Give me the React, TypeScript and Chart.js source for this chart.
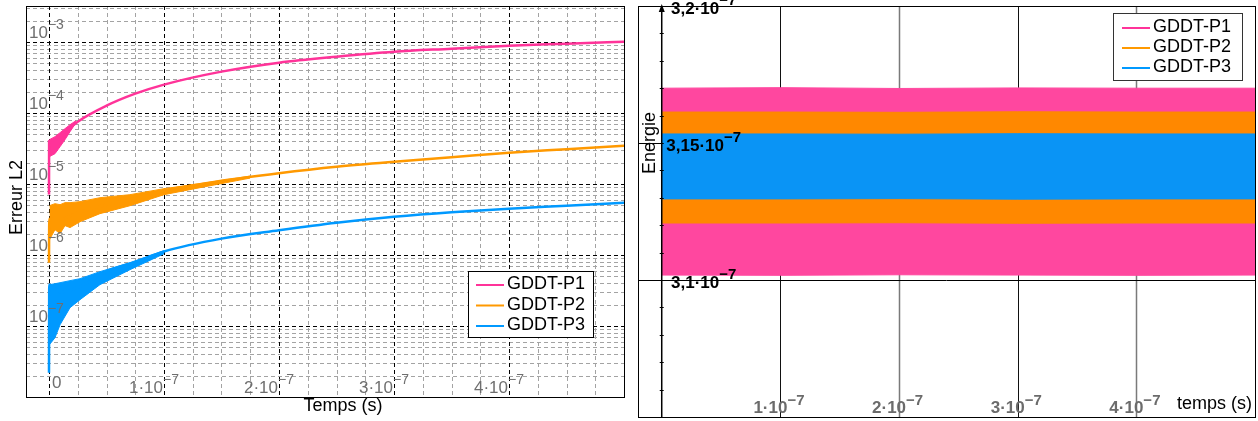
import React, { useEffect, useRef } from "react";
import { Chart, registerables } from "chart.js";

Chart.register(...registerables);

const FONT = '"Liberation Sans", Arial, Helvetica, sans-serif';
const PINK = "#ff3399";
const ORANGE = "#ff9900";
const BLUE = "#0099ff";
const SERIES = ["GDDT-P1", "GDDT-P2", "GDDT-P3"];
const SERIES_COLORS = [PINK, ORANGE, BLUE];

// ---------------- Left panel: L2 error (log) vs time ----------------
const ERR_X_RANGE = [-0.2e-7, 5e-7];
const ERR_Y_RANGE = [1e-8, 3.21e-3];
const ERR_X_TICKS = [0, 1e-7, 2e-7, 3e-7, 4e-7];
const ERR_X_TICK_BASE = ["0", "1·10", "2·10", "3·10", "4·10"];
const ERR_X_TICK_EXP = ["", "−7", "−7", "−7", "−7"];
const ERR_X_MINOR_STEP = 0.25e-7;
const ERR_Y_DECADES = [-3, -4, -5, -6, -7];
const ERR_Y_TICK_BASE = "10";
const ERR_Y_TICK_EXP = ["−3", "−4", "−5", "−6", "−7"];

const P1_T = [0, 0.001e-7, 0.1e-7, 0.183e-7, 0.25e-7, 0.5e-7, 0.75e-7, 1.0e-7, 1.5e-7, 2.0e-7, 2.5e-7, 3.0e-7, 3.5e-7, 4.0e-7, 4.5e-7, 5.0e-7];
const P1_ERR = [7.1e-6, 4.0e-5, 4.2e-5, 6.1e-5, 7.54e-5, 1.267e-4, 1.87e-4, 2.51e-4, 3.82e-4, 5.11e-4, 6.21e-4, 7.3e-4, 8.05e-4, 8.87e-4, 9.46e-4, 1.01e-3];
const P1_BAND_T = [0.004e-7, 0.052e-7, 0.096e-7, 0.139e-7, 0.183e-7, 0.235e-7];
const P1_BAND_HI = [4.21e-5, 4.64e-5, 5.28e-5, 6.01e-5, 6.84e-5, 7.79e-5];
const P1_BAND_LO = [2.43e-5, 2.67e-5, 3.35e-5, 4.21e-5, 5.45e-5, 7.3e-5];

const P2_T = [0, 0.002e-7, 0.1e-7, 0.25e-7, 0.5e-7, 0.75e-7, 1.0e-7, 1.5e-7, 2.0e-7, 2.5e-7, 3.0e-7, 3.5e-7, 4.0e-7, 4.5e-7, 5.0e-7];
const P2_ERR = [7.8e-7, 3.2e-6, 3.19e-6, 3.94e-6, 5.11e-6, 6.21e-6, 8.05e-6, 1.11e-5, 1.42e-5, 1.75e-5, 2.06e-5, 2.38e-5, 2.76e-5, 3.09e-5, 3.46e-5];
const P2_BAND_T = [0.004e-7, 0.052e-7, 0.096e-7, 0.139e-7, 0.183e-7, 0.27e-7, 0.443e-7, 0.704e-7, 1.0e-7, 1.313e-7, 1.748e-7];
const P2_BAND_HI = [4.95e-6, 5.28e-6, 5.11e-6, 5.46e-6, 5.46e-6, 5.64e-6, 6.41e-6, 7.07e-6, 8.59e-6, 1.01e-5, 1.29e-5];
const P2_BAND_LO = [1.64e-6, 2.27e-6, 2.0e-6, 2.59e-6, 2.43e-6, 2.94e-6, 3.82e-6, 4.94e-6, 7.07e-6, 8.87e-6, 1.21e-5];

const P3_T = [0, 0.002e-7, 0.1e-7, 0.27e-7, 0.5e-7, 0.75e-7, 1.0e-7, 1.5e-7, 2.0e-7, 2.5e-7, 3.0e-7, 3.5e-7, 4.0e-7, 4.5e-7, 5.0e-7];
const P3_ERR = [2.2e-8, 3.8e-7, 3.0e-7, 3.6e-7, 5.9e-7, 8.0e-7, 1.12e-6, 1.7e-6, 2.23e-6, 2.85e-6, 3.46e-6, 4.01e-6, 4.49e-6, 4.94e-6, 5.45e-6];
const P3_BAND_T = [0.004e-7, 0.052e-7, 0.096e-7, 0.183e-7, 0.27e-7, 0.443e-7, 0.704e-7, 1.0e-7];
const P3_BAND_HI = [3.82e-7, 3.94e-7, 4.07e-7, 4.35e-7, 4.64e-7, 5.82e-7, 7.8e-7, 1.15e-6];
const P3_BAND_LO = [5.46e-8, 6.84e-8, 1.04e-7, 1.81e-7, 2.35e-7, 3.82e-7, 6.21e-7, 1.04e-6];

// ---------------- Right panel: energy vs time ----------------
const EN_X_RANGE = [-0.2e-7, 5e-7];
const EN_Y_RANGE = [3.05e-7, 3.2e-7];
const EN_X_TICKS = [1e-7, 2e-7, 3e-7, 4e-7];
const EN_X_TICK_BASE = ["1·10", "2·10", "3·10", "4·10"];
const EN_X_TICK_EXP = ["−7", "−7", "−7", "−7"];
const EN_Y_TICKS = [3.2e-7, 3.15e-7, 3.1e-7];
const EN_Y_TICK_BASE = ["3,2·10", "3,15·10", "3,1·10"];
const EN_Y_TICK_EXP = ["−7", "−7", "−7"];
const EN_Y_MINOR_STEP = 0.01e-7;

const EN_T = [0, 1e-7, 2e-7, 3e-7, 4e-7, 5e-7];
const P1_EN_MAX = [3.17e-7, 3.1702e-7, 3.1699e-7, 3.1701e-7, 3.17e-7, 3.17e-7];
const P1_EN_MIN = [3.1018e-7, 3.1017e-7, 3.1019e-7, 3.1018e-7, 3.1017e-7, 3.1018e-7];
const P2_EN_MAX = [3.1613e-7, 3.1613e-7, 3.1612e-7, 3.1614e-7, 3.1613e-7, 3.1613e-7];
const P2_EN_MIN = [3.1208e-7, 3.1208e-7, 3.1209e-7, 3.1207e-7, 3.1208e-7, 3.1208e-7];
const P3_EN_MAX = [3.1533e-7, 3.1533e-7, 3.1532e-7, 3.1534e-7, 3.1533e-7, 3.1533e-7];
const P3_EN_MIN = [3.1296e-7, 3.1296e-7, 3.1297e-7, 3.1295e-7, 3.1296e-7, 3.1296e-7];

const pts = (ts: number[], vs: number[]) => ts.map((t, i) => ({ x: t, y: vs[i] }));

function text(ctx: CanvasRenderingContext2D, s: string, x: number, y: number, size: number, color: string, bold = false, align: CanvasTextAlign = "left") {
  ctx.font = `${bold ? "bold " : ""}${size}px ${FONT}`;
  ctx.fillStyle = color;
  ctx.textAlign = align;
  ctx.textBaseline = "alphabetic";
  ctx.fillText(s, x, y);
}
function measure(ctx: CanvasRenderingContext2D, s: string, size: number, bold = false) {
  ctx.font = `${bold ? "bold " : ""}${size}px ${FONT}`;
  return ctx.measureText(s).width;
}
const crisp = (v: number) => Math.round(v) + 0.5;

function drawLegend(ctx: CanvasRenderingContext2D, x0: number, y0: number, w: number, h: number, border: string, rowY: number[], lineX: number[], textX: number) {
  ctx.save();
  ctx.setLineDash([]);
  ctx.fillStyle = "#ffffff";
  ctx.fillRect(x0, y0, w, h);
  ctx.strokeStyle = border;
  ctx.lineWidth = 1;
  ctx.strokeRect(crisp(x0), crisp(y0), Math.round(w), Math.round(h));
  SERIES.forEach((name, i) => {
    ctx.strokeStyle = SERIES_COLORS[i];
    ctx.lineWidth = 2;
    ctx.beginPath();
    ctx.moveTo(lineX[0], rowY[i] - 4);
    ctx.lineTo(lineX[1], rowY[i] - 4);
    ctx.stroke();
    text(ctx, name, textX, rowY[i], 18, "#000");
  });
  ctx.restore();
}

const leftDecor = {
  id: "leftDecor",
  beforeDatasetsDraw(chart: any) {
    const { ctx, chartArea: a, scales } = chart;
    const xs = scales.x, ys = scales.y;
    ctx.save();
    ctx.beginPath();
    ctx.rect(a.left, a.top, a.right - a.left, a.bottom - a.top);
    ctx.clip();
    ctx.lineWidth = 1;
    ctx.setLineDash([4, 3]);
    const drawPass = (major: boolean) => {
      ctx.strokeStyle = major ? "#000000" : "#a3a3a3";
      ctx.beginPath();
      for (let i = 0; i <= 20; i++) {
        if ((i % 4 === 0) !== major) continue;
        const px = crisp(xs.getPixelForValue(i * ERR_X_MINOR_STEP));
        ctx.moveTo(px, a.top);
        ctx.lineTo(px, a.bottom);
      }
      for (let e = -8; e <= -3; e++) {
        for (let k = 1; k <= 9; k++) {
          const v = k * Math.pow(10, e);
          if (v > ERR_Y_RANGE[1]) break;
          if ((k === 1) !== major) continue;
          const py = crisp(ys.getPixelForValue(v));
          ctx.moveTo(a.left, py);
          ctx.lineTo(a.right, py);
        }
      }
      ctx.stroke();
    };
    drawPass(false);
    drawPass(true);
    ctx.restore();
  },
  afterDatasetsDraw(chart: any) {
    const { ctx, chartArea: a, scales } = chart;
    const xs = scales.x, ys = scales.y;
    ctx.save();
    ctx.setLineDash([]);
    ctx.strokeStyle = "#000";
    ctx.lineWidth = 1;
    ctx.strokeRect(crisp(a.left), crisp(a.top), Math.round(a.right - a.left), Math.round(a.bottom - a.top));
    const grey = "#6f6f6f";
    ERR_Y_DECADES.forEach((e, i) => {
      const py = ys.getPixelForValue(Math.pow(10, e));
      const x = a.left + 3;
      text(ctx, ERR_Y_TICK_BASE, x, py - 4, 17, grey);
      const w = measure(ctx, ERR_Y_TICK_BASE, 17);
      text(ctx, ERR_Y_TICK_EXP[i], x + w, py - 13, 14, grey);
    });
    ERR_X_TICKS.forEach((t, i) => {
      const px = xs.getPixelForValue(t);
      if (!ERR_X_TICK_EXP[i]) {
        text(ctx, ERR_X_TICK_BASE[i], px + 3, a.bottom - 9, 17, grey);
      } else {
        text(ctx, ERR_X_TICK_BASE[i], px - 1, a.bottom - 4, 17, grey, false, "right");
        text(ctx, ERR_X_TICK_EXP[i], px - 1, a.bottom - 13, 14, grey);
      }
    });
    text(ctx, "Temps (s)", (a.left + a.right) / 2 + 18, a.bottom + 14, 18, "#000", false, "center");
    ctx.save();
    ctx.translate(22, (a.top + a.bottom) / 2 - 4);
    ctx.rotate(-Math.PI / 2);
    text(ctx, "Erreur L2", 0, 0, 18, "#000", false, "center");
    ctx.restore();
    const x0 = a.right - 156, y0 = a.bottom - 126;
    drawLegend(ctx, x0, y0, 125, 66, "#000", [y0 + 18, y0 + 38.5, y0 + 59], [x0 + 8, x0 + 36], x0 + 39);
    ctx.restore();
  },
};

const rightDecor = {
  id: "rightDecor",
  beforeDatasetsDraw(chart: any) {
    const { ctx, chartArea: a, scales } = chart;
    const xs = scales.x, ys = scales.y;
    ctx.save();
    ctx.setLineDash([]);
    EN_X_TICKS.forEach((t, i) => {
      const px = crisp(xs.getPixelForValue(t));
      ctx.strokeStyle = i % 2 === 0 ? "#111" : "#7a7a7a";
      ctx.lineWidth = i % 2 === 0 ? 1 : 1.5;
      ctx.beginPath();
      ctx.moveTo(px, a.top);
      ctx.lineTo(px, a.bottom);
      ctx.stroke();
    });
    ctx.strokeStyle = "#000";
    ctx.lineWidth = 1;
    EN_Y_TICKS.forEach((v) => {
      const py = crisp(ys.getPixelForValue(v));
      ctx.beginPath();
      ctx.moveTo(a.left, py);
      ctx.lineTo(a.right, py);
      ctx.stroke();
    });
    ctx.restore();
  },
  afterDatasetsDraw(chart: any) {
    const { ctx, chartArea: a, scales } = chart;
    const xs = scales.x, ys = scales.y;
    ctx.save();
    ctx.setLineDash([]);
    ctx.strokeStyle = "#000";
    ctx.lineWidth = 1;
    ctx.strokeRect(crisp(a.left), crisp(a.top), Math.round(a.right - a.left), Math.round(a.bottom - a.top));
    const ax = xs.getPixelForValue(0);
    ctx.lineWidth = 1.5;
    ctx.beginPath();
    ctx.moveTo(ax, a.bottom);
    ctx.lineTo(ax, a.top + 3);
    ctx.stroke();
    ctx.fillStyle = "#000";
    ctx.beginPath();
    ctx.moveTo(ax, a.top - 2);
    ctx.lineTo(ax - 3, a.top + 6);
    ctx.lineTo(ax + 3, a.top + 6);
    ctx.closePath();
    ctx.fill();
    ctx.lineWidth = 1;
    ctx.beginPath();
    for (let i = 1; i < 15; i++) {
      const py = crisp(ys.getPixelForValue(EN_Y_RANGE[0] + i * EN_Y_MINOR_STEP));
      ctx.moveTo(ax - 2, py);
      ctx.lineTo(ax + 2, py);
    }
    ctx.stroke();
    EN_Y_TICKS.forEach((v, i) => {
      const py = ys.getPixelForValue(v);
      const wb = measure(ctx, EN_Y_TICK_BASE[i], 17, true);
      const we = measure(ctx, EN_Y_TICK_EXP[i], 15, true);
      const left = ax + 42 - (wb + we) / 2;
      text(ctx, EN_Y_TICK_BASE[i], left, py + 8, 17, "#000", true);
      text(ctx, EN_Y_TICK_EXP[i], left + wb, py - 1, 15, "#000", true);
    });
    EN_X_TICKS.forEach((t, i) => {
      const px = xs.getPixelForValue(t);
      const left = px - 27;
      const wb = measure(ctx, EN_X_TICK_BASE[i], 17, true);
      text(ctx, EN_X_TICK_BASE[i], left, a.bottom - 4, 17, "#6b6b6b", true);
      text(ctx, EN_X_TICK_EXP[i], left + wb, a.bottom - 12, 15, "#6b6b6b", true);
    });
    text(ctx, "temps (s)", a.right - 78, a.bottom - 8, 18, "#000");
    ctx.save();
    ctx.translate(a.left + 17, ys.getPixelForValue(3.15e-7));
    ctx.rotate(-Math.PI / 2);
    text(ctx, "Energie", 0, 0, 18, "#000", false, "center");
    ctx.restore();
    const x0 = a.right - 142, y0 = a.top + 7;
    drawLegend(ctx, x0, y0, 129, 67, "#333", [y0 + 19, y0 + 39, y0 + 59], [x0 + 9, x0 + 37], x0 + 40);
    ctx.restore();
  },
};

function bandPair(ts: number[], hi: number[], lo: number[], color: string, fillColor: string, order: number) {
  return [
    { data: pts(ts, hi), borderColor: color, backgroundColor: fillColor, borderWidth: 1, fill: "+1", pointRadius: 0, tension: 0, order },
    { data: pts(ts, lo), borderColor: color, backgroundColor: fillColor, borderWidth: 1, fill: false, pointRadius: 0, tension: 0, order },
  ];
}
function lineSet(ts: number[], vs: number[], color: string) {
  return { data: pts(ts, vs), borderColor: color, borderWidth: 2.5, fill: false, pointRadius: 0, cubicInterpolationMode: "monotone", order: 0 };
}

export default function App() {
  const leftRef = useRef<HTMLCanvasElement>(null);
  const rightRef = useRef<HTMLCanvasElement>(null);

  useEffect(() => {
    const common = {
      responsive: false,
      animation: false,
      devicePixelRatio: 1,
      events: [],
      plugins: { legend: { display: false }, tooltip: { enabled: false } },
      elements: { point: { radius: 0 } },
    };
    const left = new Chart(leftRef.current!, {
      type: "line",
      data: {
        datasets: [
          ...bandPair(P1_BAND_T, P1_BAND_HI, P1_BAND_LO, PINK, PINK, 1),
          ...bandPair(P2_BAND_T, P2_BAND_HI, P2_BAND_LO, ORANGE, ORANGE, 1),
          ...bandPair(P3_BAND_T, P3_BAND_HI, P3_BAND_LO, BLUE, BLUE, 1),
          lineSet(P1_T, P1_ERR, PINK),
          lineSet(P2_T, P2_ERR, ORANGE),
          lineSet(P3_T, P3_ERR, BLUE),
        ] as any,
      },
      options: {
        ...common,
        layout: { padding: { left: 26, top: 6, right: 6, bottom: 24 } },
        scales: {
          x: { type: "linear", min: ERR_X_RANGE[0], max: ERR_X_RANGE[1], display: false },
          y: { type: "logarithmic", min: ERR_Y_RANGE[0], max: ERR_Y_RANGE[1], display: false },
        },
      } as any,
      plugins: [leftDecor],
    });
    const right = new Chart(rightRef.current!, {
      type: "line",
      data: {
        datasets: [
          ...bandPair(EN_T, P3_EN_MAX, P3_EN_MIN, "#0a94f5", "#0a94f5", 1),
          ...bandPair(EN_T, P2_EN_MAX, P2_EN_MIN, "#ff8800", "#ff8800", 2),
          ...bandPair(EN_T, P1_EN_MAX, P1_EN_MIN, "#ff479f", "#ff479f", 3),
        ] as any,
      },
      options: {
        ...common,
        layout: { padding: { left: 8, top: 6, right: 3, bottom: 4 } },
        scales: {
          x: { type: "linear", min: EN_X_RANGE[0], max: EN_X_RANGE[1], display: false },
          y: { type: "linear", min: EN_Y_RANGE[0], max: EN_Y_RANGE[1], display: false },
        },
      } as any,
      plugins: [rightDecor],
    });
    return () => {
      left.destroy();
      right.destroy();
    };
  }, []);

  return (
    <div style={{ position: "fixed", left: 0, top: 0, width: 1258, height: 421, background: "#fff" }}>
      <canvas ref={leftRef} width={630} height={421} style={{ position: "absolute", left: 0, top: 0 }} />
      <canvas ref={rightRef} width={628} height={421} style={{ position: "absolute", left: 630, top: 0 }} />
    </div>
  );
}
